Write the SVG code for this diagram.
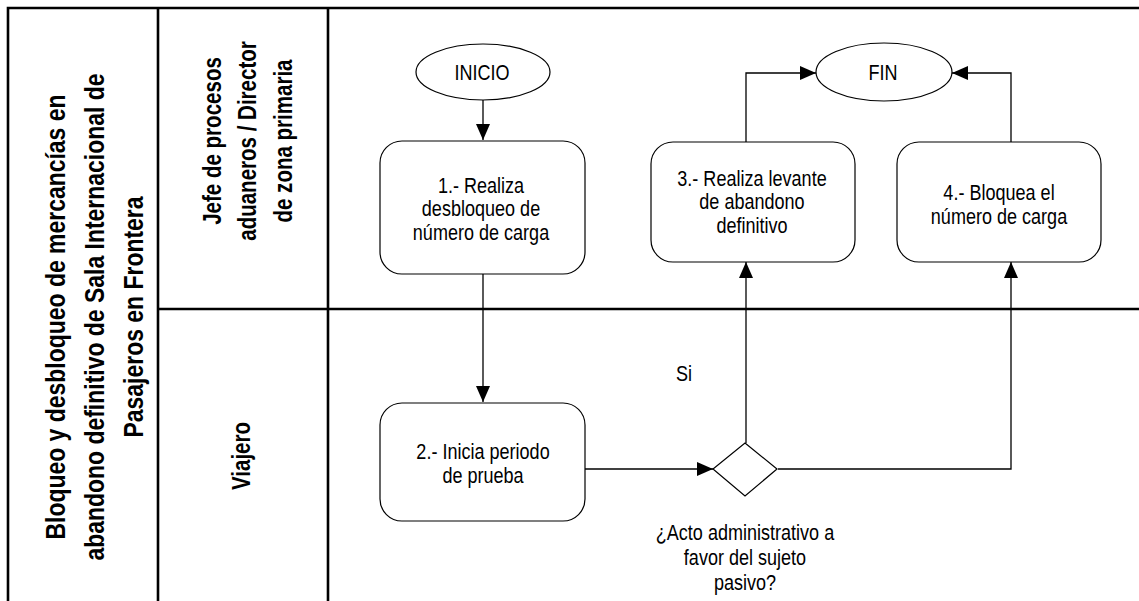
<svg xmlns="http://www.w3.org/2000/svg" width="1139" height="601" viewBox="0 0 1139 601">
<defs>
<style>
.lane{stroke:#000;stroke-width:2.6;fill:none}
.shape{fill:#fff;stroke:#000;stroke-width:1.2}
.conn{fill:none;stroke:#000;stroke-width:1.3}
.t{font-family:'Liberation Sans',Arial,sans-serif;font-size:22px;fill:#000;text-anchor:middle}
.h{font-family:'Liberation Sans',Arial,sans-serif;font-size:28px;font-weight:bold;fill:#000;text-anchor:middle}
.hl{font-family:'Liberation Sans',Arial,sans-serif;font-size:26px;font-weight:bold;fill:#000;text-anchor:middle}
</style>
<marker id="arr" viewBox="0 0 16 14" refX="16" refY="7" markerWidth="16" markerHeight="14" markerUnits="userSpaceOnUse" orient="auto">
<path d="M0,0 L16,7 L0,14 Z" fill="#000"/>
</marker>
</defs>
<rect width="1139" height="601" fill="#fff"/>
<g id="lanes">
<path class="lane" d="M8,601 V8 H1139"/>
<path class="lane" d="M158,8 V601"/>
<path class="lane" d="M328,8 V601"/>
<path class="lane" d="M158,309 H1139"/>
<text class="h" transform="translate(104,317) rotate(-90) scale(0.82,1)"><tspan x="0" y="-39">Bloqueo y desbloqueo de mercancías en</tspan><tspan x="0" y="0">abandono definitivo de Sala Internacional de</tspan><tspan x="0" y="39">Pasajeros en Frontera</tspan></text>
<text class="hl" transform="translate(256,141) rotate(-90) scale(0.79,1)"><tspan x="0" y="-35">Jefe de procesos</tspan><tspan x="0" y="0">aduaneros / Director</tspan><tspan x="0" y="36">de zona primaria</tspan></text>
<text class="hl" transform="translate(250,456) rotate(-90) scale(0.79,1)">Viajero</text>
</g>
<g id="connectors">
<path class="conn" d="M483,100 V140" marker-end="url(#arr)"/>
<path class="conn" d="M483,274 V402" marker-end="url(#arr)"/>
<path class="conn" d="M585,469 H713" marker-end="url(#arr)"/>
<path class="conn" d="M746,443 V262" marker-end="url(#arr)"/>
<path class="conn" d="M778,469 H1011 V262" marker-end="url(#arr)"/>
<path class="conn" d="M746,142 V73 H816" marker-end="url(#arr)"/>
<path class="conn" d="M1011,142 V73 H952" marker-end="url(#arr)"/>
<text class="t" transform="translate(684,0) scale(0.82,1)" x="0" y="381">Si</text>
</g>
<g id="inicio">
<ellipse class="shape" cx="483" cy="72" rx="67" ry="28"/>
<text class="t" transform="translate(482,0) scale(0.82,1)" x="0" y="80">INICIO</text>
</g>
<g id="fin">
<ellipse class="shape" cx="884" cy="72" rx="68" ry="29"/>
<text class="t" transform="translate(883,0) scale(0.82,1)" x="0" y="80">FIN</text>
</g>
<g id="n1">
<rect class="shape" x="380" y="141" width="205" height="133" rx="22"/>
<text class="t" transform="translate(481,0) scale(0.82,1)"><tspan x="0" y="193">1.- Realiza</tspan><tspan x="0" y="216.5">desbloqueo de</tspan><tspan x="0" y="240">número de carga</tspan></text>
</g>
<g id="n2">
<rect class="shape" x="380" y="403" width="205" height="118" rx="22"/>
<text class="t" transform="translate(483,0) scale(0.82,1)"><tspan x="0" y="459">2.- Inicia periodo</tspan><tspan x="0" y="483">de prueba</tspan></text>
</g>
<g id="n3">
<rect class="shape" x="651" y="142" width="204" height="120" rx="22"/>
<text class="t" transform="translate(752,0) scale(0.82,1)"><tspan x="0" y="186">3.- Realiza levante</tspan><tspan x="0" y="209.5">de abandono</tspan><tspan x="0" y="233">definitivo</tspan></text>
</g>
<g id="n4">
<rect class="shape" x="897" y="142" width="204" height="120" rx="22"/>
<text class="t" transform="translate(999,0) scale(0.82,1)"><tspan x="0" y="200">4.- Bloquea el</tspan><tspan x="0" y="224">número de carga</tspan></text>
</g>
<g id="decision">
<polygon class="shape" points="745,443 777,469 745,496 713,469"/>
<text class="t" transform="translate(745,0) scale(0.82,1)"><tspan x="0" y="540">¿Acto administrativo a</tspan><tspan x="0" y="565">favor del sujeto</tspan><tspan x="0" y="590">pasivo?</tspan></text>
</g>
</svg>
